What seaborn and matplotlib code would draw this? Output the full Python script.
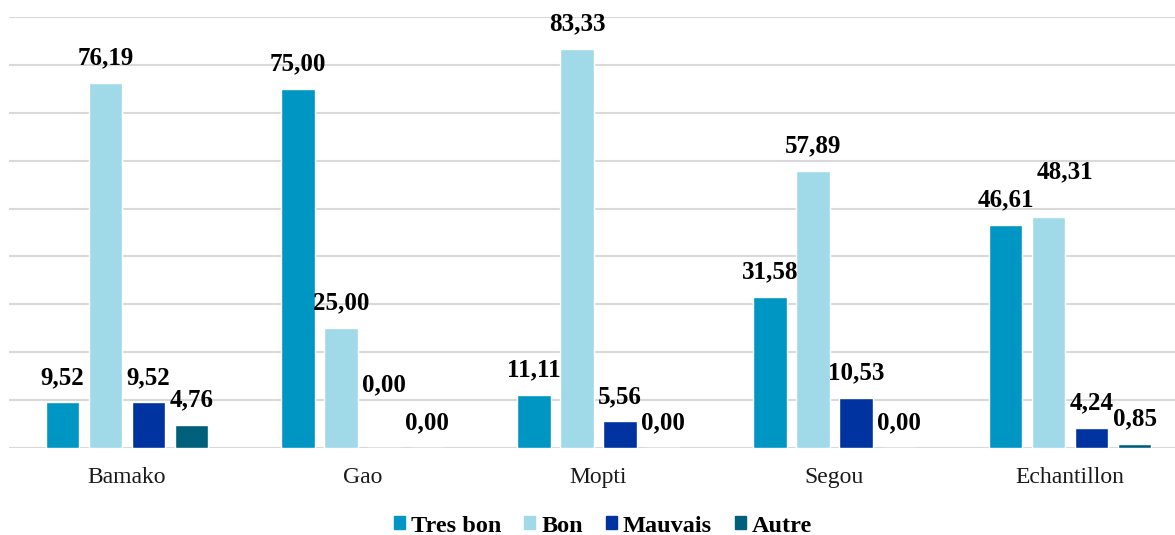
import matplotlib
matplotlib.use("Agg")
import matplotlib.pyplot as plt
import seaborn as sns
import pandas as pd

categories = ["Bamako", "Gao", "Mopti", "Segou", "Echantillon"]
series = ["Tres bon", "Bon", "Mauvais", "Autre"]
tres_bon = [9.52, 75.00, 11.11, 31.58, 46.61]
bon = [76.19, 25.00, 83.33, 57.89, 48.31]
mauvais = [9.52, 0.00, 5.56, 10.53, 4.24]
autre = [4.76, 0.00, 0.00, 0.00, 0.85]

colors = ["#0096C4", "#A0D9E8", "#0033A0", "#005F7A"]

values = {"Tres bon": tres_bon, "Bon": bon, "Mauvais": mauvais, "Autre": autre}
rows = []
for s in series:
    for c, v in zip(categories, values[s]):
        rows.append({"cat": c, "serie": s, "val": v})
df = pd.DataFrame(rows)

# label offsets in pixels (dx, dy) for manually moved labels
default_offset = (0, 25)
label_offsets = {
    ("Gao", "Mauvais"): (0, 63),
    ("Echantillon", "Bon"): (16, 45),
}

sns.set_theme(style="white")
plt.rcParams["font.family"] = ["Liberation Serif", "DejaVu Serif"]
plt.rcParams["text.color"] = "black"
plt.rcParams["xtick.color"] = "#1a1a1a"

W, H = 1175, 535
fig = plt.figure(figsize=(W / 100, H / 100), dpi=100)
ax = fig.add_axes([9 / W, (H - 448) / H, 1179 / W, (448 - 17) / H])

sns.barplot(data=df, x="cat", y="val", hue="serie", order=categories,
            hue_order=series, palette=colors, width=0.73, gap=0.22,
            saturation=1, ax=ax, legend=False)

ax.set_ylim(0, 90)
ax.set_xlim(-0.5, 4.5)
ax.set_yticks(range(0, 91, 10))
ax.set_yticklabels([])
ax.tick_params(axis="y", length=0)
ax.tick_params(axis="x", length=0, pad=14, labelsize=17, labelcolor="#1a1a1a")
ax.yaxis.grid(True, color="#D9D9D9", linewidth=1.5)
ax.set_axisbelow(True)
for sp in ax.spines.values():
    sp.set_visible(False)
ax.set_xlabel("")
ax.set_ylabel("")

for s, cont in zip(series, ax.containers):
    for c, bar, v in zip(categories, cont, values[s]):
        dx, dy = label_offsets.get((c, s), default_offset)
        x = bar.get_x() + bar.get_width() / 2
        ax.annotate(f"{v:.2f}".replace(".", ","), (x, bar.get_height()),
                    xytext=(dx, dy), textcoords="offset pixels",
                    ha="center", va="center", fontsize=18,
                    fontweight="bold", color="black")

handles = [plt.Rectangle((0, 0), 1, 1, color=col) for col in colors]
fig.legend(handles, series, loc="center",
           bbox_to_anchor=(603 / W, 1 - 526 / H),
           ncol=4, frameon=False, handlelength=0.45, handleheight=0.45,
           handletextpad=0.25, columnspacing=0.95, labelcolor="black",
           prop={"family": "Liberation Serif", "weight": "bold", "size": 17.5})

fig.savefig("out.png", dpi=100)
